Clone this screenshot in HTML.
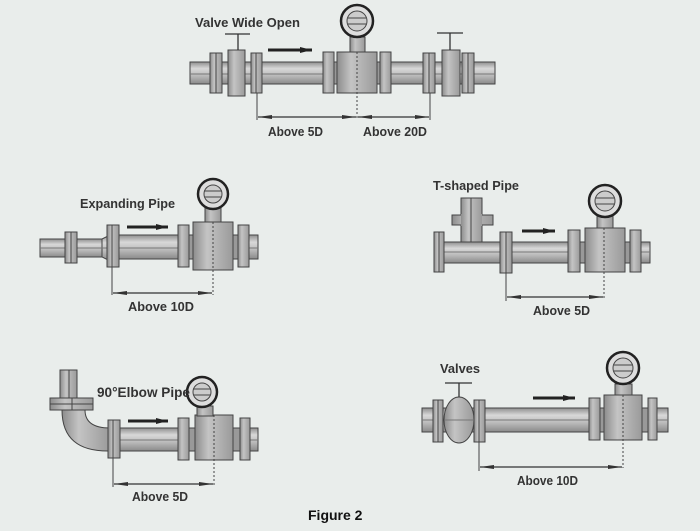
<!DOCTYPE html>
<html><head><meta charset="utf-8"><style>
html,body{margin:0;padding:0;background:#e9edeb;}
svg{display:block}
text{font-family:"Liberation Sans",sans-serif;font-weight:bold;fill:#333;font-size:13px}
</style></head><body>
<svg width="700" height="531" viewBox="0 0 700 531" xmlns="http://www.w3.org/2000/svg">
<defs>
<linearGradient id="p" x1="0" y1="0" x2="0" y2="1"><stop offset="0" stop-color="#8f8f8f"/><stop offset="0.3" stop-color="#d8d8d8"/><stop offset="0.6" stop-color="#bdbdbd"/><stop offset="1" stop-color="#8a8a8a"/></linearGradient>
<linearGradient id="b" x1="0" y1="0" x2="1" y2="0"><stop offset="0" stop-color="#8c8c8c"/><stop offset="0.35" stop-color="#c4c4c4"/><stop offset="1" stop-color="#9a9a9a"/></linearGradient>
<marker id="ah" viewBox="0 0 14 4" refX="14" refY="2" markerWidth="14" markerHeight="4" markerUnits="userSpaceOnUse" orient="auto-start-reverse"><path d="M0,0 L14,2 L0,4z" fill="#333"/></marker>
<marker id="fa" viewBox="0 0 12 6" refX="12" refY="3" markerWidth="12" markerHeight="6" markerUnits="userSpaceOnUse" orient="auto"><path d="M0,0 L12,3 L0,6z" fill="#222"/></marker>
</defs>
<g stroke="#444" stroke-width="1">

<!-- ===== Diagram 1 ===== -->
<rect x="190" y="62" width="305" height="22" fill="url(#p)"/>
<line x1="190" y1="74" x2="495" y2="74" stroke="#777"/>
<rect x="210" y="53" width="12" height="40" fill="url(#b)"/><line x1="216" y1="53" x2="216" y2="93"/>
<rect x="228" y="50" width="17" height="46" fill="url(#b)"/>
<line x1="238" y1="34" x2="238" y2="50" stroke="#333" stroke-width="1.3"/><line x1="225" y1="34" x2="250" y2="34" stroke="#333" stroke-width="1.3"/>
<rect x="251" y="53" width="11" height="40" fill="url(#b)"/><line x1="256" y1="53" x2="256" y2="93"/>
<rect x="323" y="52" width="11" height="41" fill="url(#b)"/>
<rect x="334" y="62" width="4" height="22" fill="#999"/>
<rect x="337" y="52" width="40" height="41" fill="url(#b)"/>
<rect x="377" y="62" width="4" height="22" fill="#999"/>
<rect x="380" y="52" width="11" height="41" fill="url(#b)"/>
<rect x="350" y="37" width="15" height="15" fill="url(#b)"/>
<circle cx="357" cy="21" r="16" fill="#ddd" stroke="#222" stroke-width="2.5"/>
<circle cx="357" cy="21" r="10" fill="#ccc"/>
<line x1="348" y1="18" x2="366" y2="18"/><line x1="348" y1="24" x2="366" y2="24"/>
<rect x="423" y="53" width="12" height="40" fill="url(#b)"/><line x1="429" y1="53" x2="429" y2="93"/>
<rect x="442" y="50" width="18" height="46" fill="url(#b)"/>
<line x1="450" y1="33" x2="450" y2="50" stroke="#333" stroke-width="1.3"/><line x1="437" y1="33" x2="463" y2="33" stroke="#333" stroke-width="1.3"/>
<rect x="462" y="53" width="12" height="40" fill="url(#b)"/><line x1="468" y1="53" x2="468" y2="93"/>
<line x1="257" y1="93" x2="257" y2="120"/>
<line x1="357" y1="52" x2="357" y2="120" stroke-dasharray="2,2"/>
<line x1="430" y1="93" x2="430" y2="120"/>
<line x1="258" y1="117" x2="356" y2="117" marker-start="url(#ah)" marker-end="url(#ah)" stroke="#333" stroke-width="1.3"/>
<line x1="358" y1="117" x2="429" y2="117" marker-start="url(#ah)" marker-end="url(#ah)" stroke="#333" stroke-width="1.3"/>
<line x1="268" y1="50" x2="312" y2="50" stroke="#222" stroke-width="3" marker-end="url(#fa)"/>

<!-- ===== Diagram 2 ===== -->
<rect x="40" y="239" width="62" height="18" fill="url(#p)"/>
<path d="M102,239 L110,235 L110,261 L102,257z" fill="url(#p)"/>
<rect x="110" y="235" width="148" height="24" fill="url(#p)"/>
<line x1="40" y1="248" x2="258" y2="248" stroke="#777"/>
<rect x="65" y="232" width="12" height="31" fill="url(#b)"/><line x1="71" y1="232" x2="71" y2="263"/>
<rect x="107" y="225" width="12" height="42" fill="url(#b)"/><line x1="112" y1="225" x2="112" y2="267"/>
<rect x="178" y="225" width="11" height="42" fill="url(#b)"/>
<rect x="189" y="235" width="4" height="24" fill="#999"/>
<rect x="193" y="222" width="40" height="48" fill="url(#b)"/>
<rect x="233" y="235" width="5" height="24" fill="#999"/>
<rect x="238" y="225" width="11" height="42" fill="url(#b)"/>
<rect x="205" y="208" width="16" height="14" fill="url(#b)"/>
<circle cx="213" cy="194" r="15" fill="#ddd" stroke="#222" stroke-width="2.5"/>
<circle cx="213" cy="194" r="9" fill="#ccc"/>
<line x1="205" y1="191" x2="221" y2="191"/><line x1="205" y1="197" x2="221" y2="197"/>
<line x1="112" y1="267" x2="112" y2="295"/>
<line x1="213" y1="222" x2="213" y2="295" stroke-dasharray="2,2"/>
<line x1="113" y1="293" x2="212" y2="293" marker-start="url(#ah)" marker-end="url(#ah)" stroke="#333" stroke-width="1.3"/>
<line x1="127" y1="227" x2="168" y2="227" stroke="#222" stroke-width="3" marker-end="url(#fa)"/>

<!-- ===== Diagram 3 ===== -->
<rect x="444" y="242" width="206" height="21" fill="url(#p)"/>
<line x1="444" y1="252" x2="650" y2="252" stroke="#777"/>
<rect x="461" y="198" width="21" height="44" fill="url(#b)"/>
<rect x="452" y="215" width="41" height="10" fill="url(#b)"/>
<rect x="461" y="214" width="21" height="12" fill="url(#b)" stroke="none"/>
<line x1="471" y1="198" x2="471" y2="242"/>
<rect x="434" y="232" width="10" height="40" fill="url(#b)"/><line x1="439" y1="232" x2="439" y2="272"/>
<rect x="500" y="232" width="12" height="41" fill="url(#b)"/><line x1="506" y1="232" x2="506" y2="273"/>
<rect x="568" y="230" width="12" height="42" fill="url(#b)"/>
<rect x="580" y="242" width="5" height="21" fill="#999"/>
<rect x="585" y="228" width="40" height="44" fill="url(#b)"/>
<rect x="625" y="242" width="5" height="21" fill="#999"/>
<rect x="630" y="230" width="11" height="42" fill="url(#b)"/>
<rect x="597" y="216" width="16" height="12" fill="url(#b)"/>
<circle cx="605" cy="201" r="16" fill="#ddd" stroke="#222" stroke-width="2.5"/>
<circle cx="605" cy="201" r="10" fill="#ccc"/>
<line x1="596" y1="198" x2="614" y2="198"/><line x1="596" y1="204" x2="614" y2="204"/>
<line x1="506" y1="273" x2="506" y2="301"/>
<line x1="604" y1="228" x2="604" y2="298" stroke-dasharray="2,2"/>
<line x1="507" y1="297" x2="603" y2="297" marker-start="url(#ah)" marker-end="url(#ah)" stroke="#333" stroke-width="1.3"/>
<line x1="522" y1="231" x2="555" y2="231" stroke="#222" stroke-width="3" marker-end="url(#fa)"/>

<!-- ===== Diagram 4 ===== -->
<rect x="60" y="370" width="17" height="28" fill="url(#b)"/>
<line x1="69" y1="370" x2="69" y2="398"/>
<path d="M62,410 Q62,452 110,451 L110,428 Q85,428 85,410z" fill="url(#b)"/>
<rect x="110" y="428" width="148" height="23" fill="url(#p)"/>
<line x1="110" y1="440" x2="258" y2="440" stroke="#777"/>
<rect x="50" y="398" width="43" height="12" fill="url(#b)"/><line x1="50" y1="404" x2="93" y2="404"/><line x1="72" y1="398" x2="72" y2="410"/>
<rect x="108" y="420" width="12" height="38" fill="url(#b)"/><line x1="113" y1="420" x2="113" y2="458"/>
<rect x="178" y="418" width="11" height="42" fill="url(#b)"/>
<rect x="189" y="428" width="6" height="23" fill="#999"/>
<rect x="195" y="415" width="38" height="45" fill="url(#b)"/>
<rect x="233" y="428" width="7" height="23" fill="#999"/>
<rect x="240" y="418" width="10" height="42" fill="url(#b)"/>
<rect x="197" y="406" width="16" height="10" fill="url(#b)"/>
<circle cx="202" cy="392" r="15" fill="#ddd" stroke="#222" stroke-width="2.5"/>
<circle cx="202" cy="392" r="9" fill="#ccc"/>
<line x1="194" y1="389" x2="210" y2="389"/><line x1="194" y1="395" x2="210" y2="395"/>
<line x1="113" y1="458" x2="113" y2="487"/>
<line x1="214" y1="415" x2="214" y2="486" stroke-dasharray="2,2"/>
<line x1="114" y1="484" x2="213" y2="484" marker-start="url(#ah)" marker-end="url(#ah)" stroke="#333" stroke-width="1.3"/>
<line x1="128" y1="421" x2="168" y2="421" stroke="#222" stroke-width="3" marker-end="url(#fa)"/>

<!-- ===== Diagram 5 ===== -->
<rect x="422" y="408" width="246" height="24" fill="url(#p)"/>
<line x1="422" y1="420" x2="668" y2="420" stroke="#777"/>
<rect x="433" y="400" width="10" height="42" fill="url(#b)"/><line x1="438" y1="400" x2="438" y2="442"/>
<ellipse cx="459" cy="420" rx="15" ry="23" fill="url(#b)"/>
<line x1="445" y1="420" x2="473" y2="420" stroke="#777"/>
<line x1="459" y1="383" x2="459" y2="397" stroke="#333" stroke-width="1.3"/><line x1="445" y1="383" x2="472" y2="383" stroke="#333" stroke-width="1.3"/>
<rect x="474" y="400" width="11" height="42" fill="url(#b)"/><line x1="479" y1="400" x2="479" y2="442"/>
<rect x="589" y="398" width="11" height="42" fill="url(#b)"/>
<rect x="600" y="408" width="4" height="24" fill="#999"/>
<rect x="604" y="395" width="38" height="45" fill="url(#b)"/>
<rect x="642" y="408" width="6" height="24" fill="#999"/>
<rect x="648" y="398" width="9" height="42" fill="url(#b)"/>
<rect x="615" y="384" width="17" height="11" fill="url(#b)"/>
<circle cx="623" cy="368" r="16" fill="#ddd" stroke="#222" stroke-width="2.5"/>
<circle cx="623" cy="368" r="10" fill="#ccc"/>
<line x1="614" y1="365" x2="632" y2="365"/><line x1="614" y1="371" x2="632" y2="371"/>
<line x1="479" y1="442" x2="479" y2="471"/>
<line x1="623" y1="395" x2="623" y2="468" stroke-dasharray="2,2"/>
<line x1="480" y1="467" x2="622" y2="467" marker-start="url(#ah)" marker-end="url(#ah)" stroke="#333" stroke-width="1.3"/>
<line x1="533" y1="398" x2="575" y2="398" stroke="#222" stroke-width="3" marker-end="url(#fa)"/>
</g>

<text x="195" y="27" textLength="105" lengthAdjust="spacingAndGlyphs">Valve Wide Open</text>
<text x="268" y="136" textLength="55" lengthAdjust="spacingAndGlyphs">Above 5D</text>
<text x="363" y="136" textLength="64" lengthAdjust="spacingAndGlyphs">Above 20D</text>
<text x="80" y="208" textLength="95" lengthAdjust="spacingAndGlyphs">Expanding Pipe</text>
<text x="128" y="311" textLength="66" lengthAdjust="spacingAndGlyphs">Above 10D</text>
<text x="433" y="190" textLength="86" lengthAdjust="spacingAndGlyphs">T-shaped Pipe</text>
<text x="533" y="315" textLength="57" lengthAdjust="spacingAndGlyphs">Above 5D</text>
<text x="97" y="397" textLength="93" lengthAdjust="spacingAndGlyphs" style="font-size:14px">90°Elbow Pipe</text>
<text x="132" y="501" textLength="56" lengthAdjust="spacingAndGlyphs">Above 5D</text>
<text x="440" y="373" textLength="40" lengthAdjust="spacingAndGlyphs">Valves</text>
<text x="517" y="485" textLength="61" lengthAdjust="spacingAndGlyphs">Above 10D</text>
<text x="308" y="520" style="font-size:14px;fill:#111">Figure 2</text>
</svg>
</body></html>
